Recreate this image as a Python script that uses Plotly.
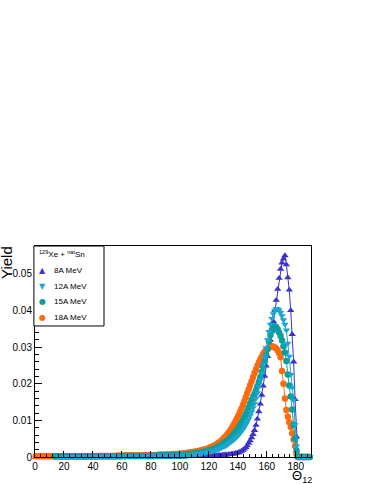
import plotly.graph_objects as go

# Bin centres (1 degree bins, 0-190 deg)
THETA = [i + 0.5 for i in range(190)]

SERIES_NAMES = ["8A MeV", "12A MeV", "15A MeV", "18A MeV"]
LEGEND_HEADER = "<sup>129</sup>Xe + <sup>nat</sup>Sn"

Y_8A = [
    0, 0, 0, 0, 0, 0, 0, 0, 0, 0,
    0, 0, 0, 0, 0, 0, 0, 0, 0, 0,
    0, 0, 0, 0, 0, 0, 0, 0, 0, 0,
    0, 0, 0, 0, 0, 0, 0, 0, 0, 0,
    0, 0, 0, 0, 0, 0, 0, 0, 0, 0,
    0, 0, 0, 0, 0, 0, 0, 0, 0, 0,
    0, 0, 0, 0, 0, 0, 0, 0, 0, 0,
    0, 0, 0, 0, 0, 0, 0, 0, 0, 0,
    0.0001, 0.0001, 0.0001, 0.0001, 0.0001, 0.0001, 0.0001, 0.0001, 0.0001, 0.0001,
    0.0001, 0.0001, 0.0001, 0.0001, 0.0001, 0.0001, 0.0001, 0.0001, 0.0001, 0.0001,
    0.0001, 0.0001, 0.0001, 0.0001, 0.0002, 0.0002, 0.0002, 0.0002, 0.0002, 0.0002,
    0.0002, 0.0002, 0.0003, 0.0003, 0.0003, 0.0003, 0.0003, 0.0003, 0.0003, 0.0003,
    0.0003, 0.0003, 0.0004, 0.0004, 0.0004, 0.0004, 0.0005, 0.0005, 0.0005, 0.0005,
    0.0006, 0.0006, 0.0006, 0.0007, 0.0007, 0.0008, 0.0008, 0.0009, 0.0010, 0.0011,
    0.0012, 0.0014, 0.0016, 0.0019, 0.0022, 0.0026, 0.0031, 0.0038, 0.0045, 0.0053,
    0.0062, 0.0073, 0.0087, 0.0104, 0.0124, 0.0145, 0.0169, 0.0194, 0.0221, 0.0249,
    0.0275, 0.0297, 0.0319, 0.0342, 0.0370, 0.0400, 0.0428, 0.0458, 0.0488, 0.0513,
    0.0530, 0.0541, 0.0550, 0.0525, 0.0490, 0.0456, 0.0400, 0.0335, 0.0260, 0.0157,
    0.0055, 0, 0, 0, 0, 0, 0, 0, 0, 0,
]

Y_12A = [
    None, None, None, None, None, None, None, None, None, None,
    None, None, None, None, None, 0.0001, 0.0001, 0.0001, 0.0001, 0.0001,
    0.0001, 0.0001, 0.0001, 0.0001, 0.0001, 0.0001, 0.0001, 0.0001, 0.0001, 0.0001,
    0.0001, 0.0001, 0.0001, 0.0001, 0.0001, 0.0002, 0.0001, 0.0001, 0.0002, 0.0001,
    0.0002, 0.0002, 0.0002, 0.0002, 0.0002, 0.0002, 0.0002, 0.0002, 0.0002, 0.0002,
    0.0002, 0.0002, 0.0002, 0.0002, 0.0002, 0.0002, 0.0002, 0.0002, 0.0002, 0.0002,
    0.0002, 0.0002, 0.0002, 0.0002, 0.0002, 0.0002, 0.0002, 0.0002, 0.0002, 0.0002,
    0.0002, 0.0002, 0.0002, 0.0002, 0.0002, 0.0002, 0.0002, 0.0002, 0.0002, 0.0002,
    0.0002, 0.0002, 0.0003, 0.0002, 0.0003, 0.0003, 0.0003, 0.0003, 0.0003, 0.0003,
    0.0003, 0.0003, 0.0003, 0.0003, 0.0003, 0.0003, 0.0004, 0.0004, 0.0004, 0.0004,
    0.0004, 0.0004, 0.0004, 0.0005, 0.0005, 0.0005, 0.0006, 0.0006, 0.0006, 0.0007,
    0.0007, 0.0008, 0.0008, 0.0009, 0.0009, 0.0010, 0.0011, 0.0011, 0.0012, 0.0013,
    0.0014, 0.0015, 0.0016, 0.0017, 0.0018, 0.0020, 0.0021, 0.0023, 0.0025, 0.0027,
    0.0029, 0.0031, 0.0033, 0.0036, 0.0039, 0.0042, 0.0045, 0.0048, 0.0052, 0.0056,
    0.0060, 0.0065, 0.0070, 0.0076, 0.0082, 0.0089, 0.0096, 0.0104, 0.0113, 0.0123,
    0.0134, 0.0146, 0.0160, 0.0175, 0.0192, 0.0210, 0.0230, 0.0252, 0.0275, 0.0298,
    0.0320, 0.0342, 0.0362, 0.0378, 0.0391, 0.0400, 0.0405, 0.0404, 0.0400, 0.0394,
    0.0385, 0.0374, 0.0362, 0.0346, 0.0310, 0.0275, 0.0225, 0.0190, 0.0155, 0.0088,
    0.0030, 0, 0, 0, 0, 0, 0, 0, 0, 0,
]

Y_15A = [
    None, None, None, None, None, None, None, None, None, None,
    None, None, None, 0.0002, 0.0002, 0.0002, 0.0002, 0.0002, 0.0002, 0.0002,
    0.0002, 0.0002, 0.0002, 0.0002, 0.0002, 0.0002, 0.0002, 0.0002, 0.0002, 0.0002,
    0.0002, 0.0002, 0.0002, 0.0002, 0.0002, 0.0002, 0.0002, 0.0002, 0.0002, 0.0002,
    0.0002, 0.0002, 0.0002, 0.0002, 0.0002, 0.0002, 0.0002, 0.0002, 0.0002, 0.0002,
    0.0002, 0.0002, 0.0002, 0.0002, 0.0003, 0.0002, 0.0002, 0.0003, 0.0002, 0.0003,
    0.0003, 0.0003, 0.0003, 0.0003, 0.0003, 0.0003, 0.0003, 0.0003, 0.0003, 0.0003,
    0.0003, 0.0003, 0.0003, 0.0003, 0.0003, 0.0003, 0.0003, 0.0003, 0.0003, 0.0003,
    0.0003, 0.0003, 0.0003, 0.0004, 0.0003, 0.0004, 0.0004, 0.0004, 0.0004, 0.0004,
    0.0004, 0.0004, 0.0004, 0.0004, 0.0004, 0.0005, 0.0005, 0.0005, 0.0005, 0.0005,
    0.0005, 0.0005, 0.0006, 0.0006, 0.0007, 0.0007, 0.0008, 0.0008, 0.0009, 0.0009,
    0.0010, 0.0010, 0.0011, 0.0012, 0.0012, 0.0013, 0.0014, 0.0015, 0.0016, 0.0017,
    0.0018, 0.0019, 0.0021, 0.0022, 0.0024, 0.0026, 0.0028, 0.0030, 0.0032, 0.0035,
    0.0038, 0.0041, 0.0044, 0.0047, 0.0051, 0.0055, 0.0059, 0.0064, 0.0069, 0.0074,
    0.0080, 0.0086, 0.0093, 0.0100, 0.0108, 0.0116, 0.0125, 0.0135, 0.0145, 0.0155,
    0.0163, 0.0172, 0.0182, 0.0193, 0.0205, 0.0218, 0.0232, 0.0247, 0.0262, 0.0278,
    0.0295, 0.0315, 0.0333, 0.0347, 0.0355, 0.0357, 0.0354, 0.0348, 0.0340, 0.0330,
    0.0318, 0.0302, 0.0285, 0.0262, 0.0225, 0.0195, 0.0165, 0.0130, 0.0088, 0.0050,
    0.0018, 0, 0, 0, 0, 0, 0, 0, 0, 0,
]

Y_18A = [
    0.0002, 0.0003, 0.0002, 0.0002, 0.0003, 0.0002, 0.0002, 0.0003, 0.0002, 0.0002,
    0.0002, 0.0003, 0.0002, 0.0002, 0.0002, 0.0003, 0.0002, 0.0002, 0.0002, 0.0002,
    0.0002, 0.0002, 0.0003, 0.0002, 0.0002, 0.0002, 0.0002, 0.0003, 0.0002, 0.0002,
    0.0002, 0.0002, 0.0002, 0.0003, 0.0002, 0.0002, 0.0003, 0.0002, 0.0002, 0.0003,
    0.0003, 0.0002, 0.0003, 0.0003, 0.0003, 0.0003, 0.0003, 0.0003, 0.0003, 0.0003,
    0.0003, 0.0003, 0.0003, 0.0003, 0.0003, 0.0003, 0.0003, 0.0004, 0.0003, 0.0003,
    0.0004, 0.0003, 0.0004, 0.0004, 0.0004, 0.0004, 0.0004, 0.0004, 0.0004, 0.0004,
    0.0004, 0.0004, 0.0004, 0.0005, 0.0004, 0.0005, 0.0005, 0.0005, 0.0005, 0.0005,
    0.0005, 0.0005, 0.0005, 0.0005, 0.0005, 0.0006, 0.0006, 0.0006, 0.0006, 0.0006,
    0.0006, 0.0007, 0.0007, 0.0007, 0.0007, 0.0008, 0.0008, 0.0008, 0.0008, 0.0009,
    0.0009, 0.0009, 0.0010, 0.0010, 0.0011, 0.0011, 0.0012, 0.0012, 0.0013, 0.0014,
    0.0014, 0.0015, 0.0016, 0.0017, 0.0018, 0.0019, 0.0020, 0.0021, 0.0022, 0.0024,
    0.0025, 0.0027, 0.0029, 0.0031, 0.0033, 0.0035, 0.0038, 0.0041, 0.0044, 0.0048,
    0.0052, 0.0056, 0.0061, 0.0066, 0.0071, 0.0077, 0.0084, 0.0091, 0.0098, 0.0106,
    0.0114, 0.0123, 0.0132, 0.0142, 0.0152, 0.0163, 0.0174, 0.0185, 0.0196, 0.0207,
    0.0218, 0.0229, 0.0239, 0.0249, 0.0258, 0.0266, 0.0274, 0.0281, 0.0287, 0.0292,
    0.0296, 0.0299, 0.0301, 0.0302, 0.0301, 0.0299, 0.0296, 0.0291, 0.0284, 0.0272,
    0.0235, 0.0200, 0.0160, 0.0128, 0.0110, 0.0095, 0.0082, 0.0065, 0.0048, 0.0030,
    0.0008, 0, 0, 0, 0, 0, 0, 0, 0, 0,
]

X_TICKS = [0, 20, 40, 60, 80, 100, 120, 140, 160, 180]
X_TICK_TEXT = ["0", "20", "40", "60", "80", "100", "120", "140", "160", "180"]
Y_TICKS = [0, 0.01, 0.02, 0.03, 0.04, 0.05]
Y_TICK_TEXT = ["0", "0.01", "0.02", "0.03", "0.04", "0.05"]

FONT = "Liberation Sans, Arial, Helvetica, sans-serif"

styles = {
    "8A MeV": dict(color="#3b33cc", symbol="triangle-up", glyph="▲"),
    "12A MeV": dict(color="#1aa6cf", symbol="triangle-down", glyph="▼"),
    "15A MeV": dict(color="#0a9e9e", symbol="circle", glyph="●"),
    "18A MeV": dict(color="#ff6a0d", symbol="circle", glyph="●"),
}
data = {"8A MeV": Y_8A, "12A MeV": Y_12A, "15A MeV": Y_15A, "18A MeV": Y_18A}

fig = go.Figure()
for name in ["8A MeV", "18A MeV", "15A MeV", "12A MeV"]:
    st = styles[name]
    fig.add_trace(go.Scatter(
        x=THETA, y=data[name], name=name, mode="lines+markers",
        line=dict(color=st["color"], width=1),
        marker=dict(color=st["color"], symbol=st["symbol"], size=6.5,
                    line=dict(width=0)),
        showlegend=False, cliponaxis=False,
    ))

# Legend box (ROOT TLegend look), placed at the top-left corner of the frame
annotations = [
    dict(text=LEGEND_HEADER, xref="paper", yref="paper", x=0.008, y=0.962,
         xanchor="left", yanchor="middle", showarrow=False,
         font=dict(family=FONT, size=8, color="black")),
]
entry_y = [0.882, 0.808, 0.736, 0.661]
for name, yy in zip(SERIES_NAMES, entry_y):
    st = styles[name]
    annotations.append(dict(text=st["glyph"], xref="paper", yref="paper",
                            x=0.027, y=yy, xanchor="center", yanchor="middle",
                            showarrow=False,
                            font=dict(family="DejaVu Sans", size=8, color=st["color"])))
    annotations.append(dict(text=name, xref="paper", yref="paper",
                            x=0.062, y=yy, xanchor="left", yanchor="middle",
                            showarrow=False,
                            font=dict(family=FONT, size=8, color="black")))

annotations += [
    dict(text="Yield", xref="paper", yref="paper", x=0, y=1,
         xanchor="right", yanchor="top", xshift=-18, yshift=2, textangle=-90,
         showarrow=False, font=dict(family=FONT, size=15, color="black")),
    dict(text="Θ<sub>12</sub>", xref="paper", yref="paper", x=1, y=0,
         xanchor="right", yanchor="top", yshift=-9, xshift=3,
         showarrow=False, font=dict(family=FONT, size=13, color="black")),
]

fig.update_layout(
    width=374, height=484,
    paper_bgcolor="white", plot_bgcolor="white",
    margin=dict(l=35, r=63, t=246, b=27, autoexpand=False),
    font=dict(family=FONT, size=10, color="black"),
    showlegend=False,
    xaxis=dict(
        range=[0, 190.5], showgrid=False, zeroline=False,
        showline=True, linecolor="black", linewidth=1, mirror=True,
        ticks="inside", ticklen=6, tickcolor="black",
        tickvals=X_TICKS, ticktext=X_TICK_TEXT,
        tickfont=dict(family=FONT, size=10, color="black"),
        minor=dict(dtick=4, tick0=0, ticks="inside", ticklen=3, tickcolor="black"),
    ),
    yaxis=dict(
        range=[0, 0.0576], showgrid=False, zeroline=False,
        showline=True, linecolor="black", linewidth=1, mirror=True,
        ticks="inside", ticklen=7, tickcolor="black",
        tickvals=Y_TICKS, ticktext=Y_TICK_TEXT,
        tickfont=dict(family=FONT, size=10, color="black"),
        minor=dict(dtick=0.002, tick0=0, ticks="inside", ticklen=4, tickcolor="black"),
    ),
    shapes=[
        dict(type="rect", xref="paper", yref="paper",
             x0=-0.004, x1=0.25, y0=0.621, y1=1.0,
             line=dict(color="black", width=1), fillcolor="white", layer="above"),
    ],
    annotations=annotations,
)

fig.write_html("out.html", config={"displayModeBar": False},
               post_script="document.body.style.margin='0';")
